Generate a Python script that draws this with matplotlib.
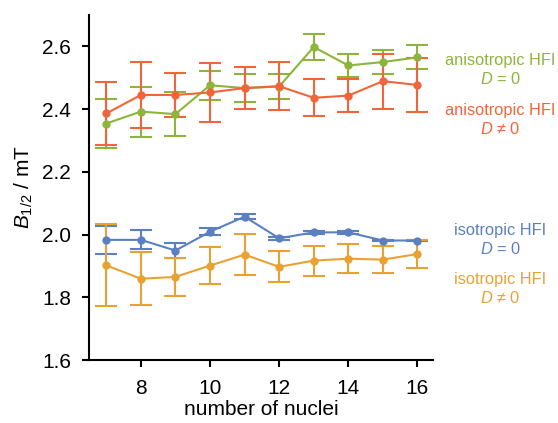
import matplotlib
matplotlib.use("Agg")
import matplotlib.pyplot as plt

plt.rcParams["font.family"] = ["Liberation Sans", "DejaVu Sans"]
plt.rcParams["mathtext.fontset"] = "custom"
plt.rcParams["mathtext.rm"] = "Liberation Sans"
plt.rcParams["mathtext.it"] = "Liberation Sans:italic"

# ── Data ──────────────────────────────────────────────────────────────────────
n_nuclei = [7, 8, 9, 10, 11, 12, 13, 14, 15, 16]

aniso_d0     = [2.354, 2.392, 2.384, 2.476, 2.467, 2.472, 2.598, 2.539, 2.550, 2.565]
aniso_d0_err = [0.077, 0.080, 0.071, 0.046, 0.045, 0.040, 0.042, 0.038, 0.037, 0.038]

aniso_dn     = [2.386, 2.445, 2.445, 2.453, 2.467, 2.473, 2.436, 2.443, 2.489, 2.477]
aniso_dn_err = [0.101, 0.104, 0.070, 0.094, 0.067, 0.077, 0.059, 0.052, 0.088, 0.087]

iso_d0     = [1.983, 1.983, 1.949, 2.009, 2.057, 1.988, 2.007, 2.007, 1.981, 1.981]
iso_d0_err = [0.045, 0.030, 0.025, 0.012, 0.008, 0.005, 0.005, 0.004, 0.003, 0.003]

iso_dn     = [1.902, 1.859, 1.865, 1.901, 1.936, 1.897, 1.917, 1.923, 1.920, 1.938]
iso_dn_err = [0.131, 0.084, 0.061, 0.059, 0.066, 0.049, 0.048, 0.046, 0.043, 0.044]

GREEN  = "#8db53c"
RED    = "#f0653a"
BLUE   = "#5b80c2"
ORANGE = "#e9a232"

series = [
    (aniso_d0, aniso_d0_err, GREEN),
    (aniso_dn, aniso_dn_err, RED),
    (iso_d0, iso_d0_err, BLUE),
    (iso_dn, iso_dn_err, ORANGE),
]

# ── Plot ──────────────────────────────────────────────────────────────────────
fig = plt.figure(figsize=(5.58, 4.23), dpi=100)
ax = fig.add_axes([89 / 558, 1 - 360 / 423, (433 - 89) / 558, (360 - 15) / 423])

for vals, errs, col in series:
    ax.errorbar(n_nuclei, vals, yerr=errs, color=col, lw=1.5, marker="o", ms=5,
                capsize=8, capthick=1.5, elinewidth=1.5)

ax.set_xlim(6.5, 16.45)
ax.set_ylim(1.6, 2.7)
ax.set_xticks([8, 10, 12, 14, 16])
ax.set_yticks([1.6, 1.8, 2.0, 2.2, 2.4, 2.6])
ax.set_yticklabels([f"{v:.1f}" for v in [1.6, 1.8, 2.0, 2.2, 2.4, 2.6]])
ax.tick_params(labelsize=15, width=1.5, length=5)
ax.tick_params(axis="x", pad=9)
ax.tick_params(axis="y", pad=8)
for side in ("top", "right"):
    ax.spines[side].set_visible(False)
for side in ("left", "bottom"):
    ax.spines[side].set_linewidth(1.5)

ax.set_xlabel("number of nuclei", fontsize=15, labelpad=1)
ax.set_ylabel("$B_{1/2}$ / mT", fontsize=15, labelpad=5)

# right-hand labels
labels = [
    ("anisotropic HFI\n$D$ = 0", GREEN, 70),
    ("anisotropic HFI\n$D$ ≠ 0", RED, 120),
    ("isotropic HFI\n$D$ = 0", BLUE, 240),
    ("isotropic HFI\n$D$ ≠ 0", ORANGE, 289),
]
for txt, col, ypix in labels:
    fig.text(500 / 558, 1 - ypix / 423, txt, color=col, fontsize=11.8,
             ha="center", va="center", linespacing=1.2)

plt.savefig("out.png", dpi=100)
